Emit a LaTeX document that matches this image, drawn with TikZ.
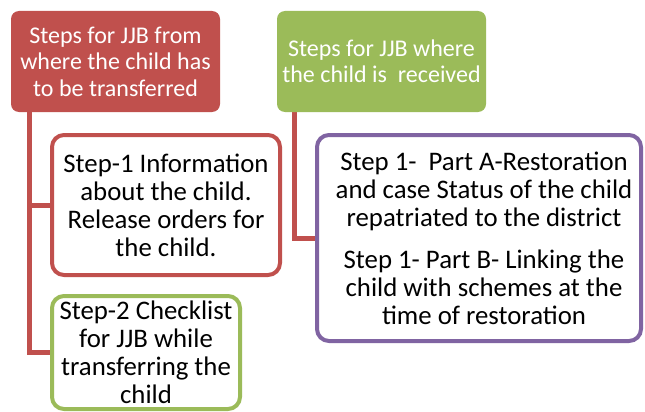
\documentclass[tikz,border=0pt]{standalone}
\usepackage{fontspec}
\setmainfont{Carlito}
\usetikzlibrary{backgrounds}
\definecolor{cRed}{HTML}{C0504D}
\definecolor{cGreen}{HTML}{9BBB59}
\definecolor{cPurple}{HTML}{8064A2}
\tikzset{
  hdr/.style={rectangle, rounded corners=8pt, inner sep=0pt, align=center, text=white,
    font=\fontsize{24}{26.5}\selectfont},
  stepbox/.style={rectangle, rounded corners=12pt, draw, line width=4pt, fill=white,
    inner sep=0pt, align=center, text=black, font=\fontsize{26.8}{28}\selectfont},
  conn/.style={draw=cRed, line width=5pt}
}
\begin{document}
\begin{tikzpicture}[x=1pt,y=-1pt]
\useasboundingbox (0,0) rectangle (645,412);
\clip (0,0) rectangle (645,412);
% headers
\node[hdr, fill=cRed, minimum width=209, minimum height=101] (h1) at (115.5,61.5)
  {Steps for JJB from\\where the child has\\to be transferred};
\node[hdr, fill=cGreen, minimum width=209, minimum height=101] (h2) at (381.5,61.5)
  {Steps for JJB where\\the child is~ received};
% step boxes
\node[stepbox, draw=cRed, minimum width=228, minimum height=140] (s1) at (166,205)
  {Step-1 Information\\about the child.\\Release orders for\\the child.};
\node[stepbox, draw=cGreen, minimum width=188, minimum height=113] (s2) at (146,352.5)
  {Step-2 Checklist\\for JJB while\\transferring the\\child};
\node[stepbox, draw=cPurple, minimum width=324, minimum height=206] (p) at (479,238)
  {\hspace*{10pt}Step 1-~ Part A-Restoration\\\hspace*{10pt}and case Status of the child\\\hspace*{10pt}repatriated to the district\\[14pt]
   \hspace*{10pt}Step 1- Part B- Linking the\\\hspace*{10pt}child with schemes at the\\\hspace*{10pt}time of restoration};
% connectors
\begin{scope}[on background layer]
\fill[white] (0,0) rectangle (645,412);
\draw[conn] ([xshift=19pt]h1.south west) |- (s1.west);
\draw[conn] ([xshift=19pt]h1.south west) |- (s2.west);
\draw[conn] ([xshift=18pt]h2.south west) |- (p.west);
\end{scope}
\end{tikzpicture}
\end{document}
